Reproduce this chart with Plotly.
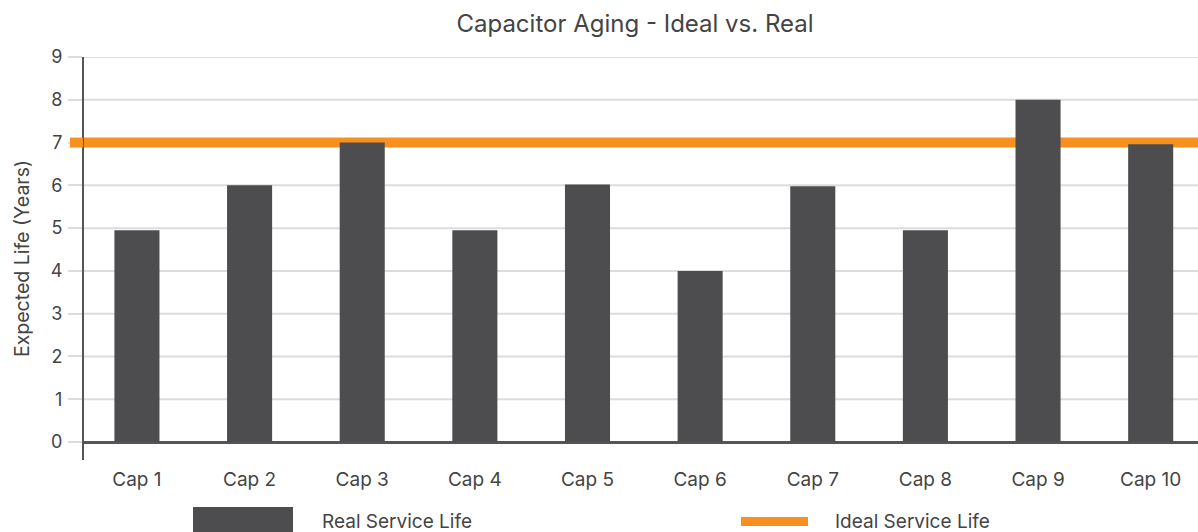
import plotly.graph_objects as go

categories = ["Cap 1", "Cap 2", "Cap 3", "Cap 4", "Cap 5", "Cap 6", "Cap 7", "Cap 8", "Cap 9", "Cap 10"]
real_life = [4.95, 6.0, 7.0, 4.95, 6.02, 4.0, 5.98, 4.95, 8.0, 6.96]
ideal_life = 7
y_ticks = [0, 1, 2, 3, 4, 5, 6, 7, 8, 9]

W, H = 1198, 532
L, R, T, B = 84, 0, 57, 72
pw, ph = W - L - R, H - T - B

def px(x):
    return (x - L) / pw

def py(y):
    return (H - B - y) / ph

FONT = "Inter, Roboto, Arial, sans-serif"
TXT = "#444444"
DARK = "#4d4d4f"
ORANGE = "#f7901e"
GRID = "#dcdcdc"

fig = go.Figure()
fig.add_trace(go.Bar(x=list(range(len(categories))), y=real_life, marker_color=DARK,
                     marker_line_width=0, width=0.4, name="Real Service Life", showlegend=False))

# gridlines drawn as shapes so the ideal line can sit above them but below the bars
shapes = [
    dict(type="line", xref="x domain", yref="y", x0=0, x1=1.0, y0=v, y1=v,
         line=dict(color=GRID, width=2), layer="below")
    for v in y_ticks[1:]
]
shapes += [
    dict(type="line", xref="x domain", yref="y", x0=0, x1=1.0, y0=ideal_life, y1=ideal_life,
         line=dict(color=ORANGE, width=10), layer="below"),
    dict(type="line", xref="paper", yref="y", x0=px(70), x1=px(83), y0=ideal_life, y1=ideal_life,
         line=dict(color=ORANGE, width=10), layer="above"),
    # legend swatches
    dict(type="rect", xref="paper", yref="paper", x0=px(193), x1=px(293), y0=py(540), y1=py(507),
         fillcolor=DARK, line_width=0),
    dict(type="line", xref="paper", yref="paper", x0=px(741), x1=px(808), y0=py(521.5), y1=py(521.5),
         line=dict(color=ORANGE, width=9)),
]

annotations = [
    dict(text="Real Service Life", xref="paper", yref="paper", x=px(320), y=py(521), xanchor="left",
         yanchor="middle", showarrow=False, font=dict(family=FONT, size=19, color=TXT)),
    dict(text="Ideal Service Life", xref="paper", yref="paper", x=px(833), y=py(521), xanchor="left",
         yanchor="middle", showarrow=False, font=dict(family=FONT, size=19, color=TXT)),
]

fig.update_layout(
    width=W, height=H,
    margin=dict(l=L, r=R, t=T, b=B, pad=0),
    paper_bgcolor="white", plot_bgcolor="white",
    title=dict(text="Capacitor Aging - Ideal vs. Real", x=635 / W, xanchor="center", y=1 - 24 / H,
               yanchor="middle", font=dict(family=FONT, size=24, color=TXT)),
    font=dict(family=FONT, size=18, color=TXT),
    showlegend=False,
    shapes=shapes,
    annotations=annotations,
    xaxis=dict(
        tickmode="array", tickvals=list(range(len(categories))), ticktext=categories,
        range=[-0.47, 9.42], showgrid=False, showline=False, zeroline=False, ticks="",
        tickfont=dict(family=FONT, size=19, color=TXT), ticklabelstandoff=6,
    ),
    yaxis=dict(
        range=[-0.42, 9], tickmode="array", tickvals=y_ticks,
        showgrid=False,
        showline=True, linecolor="#555555", linewidth=2,
        zeroline=True, zerolinecolor="#555555", zerolinewidth=3,
        ticks="outside", ticklen=14, tickcolor=GRID, tickwidth=2,
        tickfont=dict(family=FONT, size=18, color=TXT), ticklabelstandoff=2,
        title=dict(text="Expected Life (Years)", standoff=16, font=dict(family=FONT, size=19.5, color=TXT)),
    ),
)

html = fig.to_html(include_plotlyjs=True, full_html=True, config={"displayModeBar": False})
html = html.replace("<head>", "<head><style>html,body{margin:0;padding:0;overflow:hidden;}</style>", 1)
with open("out.html", "w", encoding="utf-8") as f:
    f.write(html)
